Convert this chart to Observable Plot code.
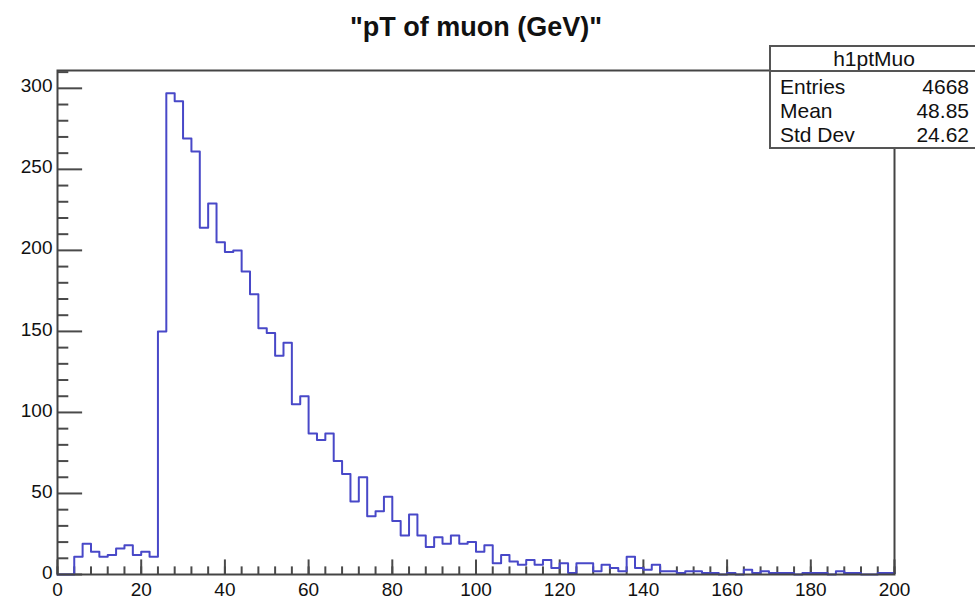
<!DOCTYPE html>
<html>
<head>
<meta charset="utf-8">
<script src="https://cdn.jsdelivr.net/npm/d3@7"></script>
<script src="https://cdn.jsdelivr.net/npm/@observablehq/plot@0.6"></script>
<style>
html,body{margin:0;padding:0;background:#fff;overflow:hidden;width:975px;height:603px}
#wrap{position:relative;width:975px;height:603px}
#stats{position:absolute;left:769px;top:45px;width:210px;height:100px;border:2px solid #555;background:#fff;
  font-family:"Liberation Sans",Arial,sans-serif;font-size:21px;color:#111}
#stats .hdr{position:absolute;left:0;top:0;width:206px;height:23px;line-height:23px;text-align:center}
#stats .sep{position:absolute;left:0;top:23px;width:100%;height:2px;background:#555}
#stats .row{position:absolute;left:9px;width:189px;height:24px;line-height:24px;display:flex;justify-content:space-between}
</style>
</head>
<body>
<div id="wrap">
  <div id="chart"></div>
  <div id="stats"></div>
</div>
<script>
const title = "\"pT of muon (GeV)\"";
const histName = "h1ptMuo";
const statLabels = ["Entries", "Mean", "Std Dev"];
const statValues = ["4668", "48.85", "24.62"];

// lower edges of the 2 GeV bins
const binEdges = [0,2,4,6,8,10,12,14,16,18,20,22,24,26,28,30,32,34,36,38,40,42,44,46,48,50,52,54,56,58,60,62,64,66,68,70,72,74,76,78,80,82,84,86,88,90,92,94,96,98,100,102,104,106,108,110,112,114,116,118,120,122,124,126,128,130,132,134,136,138,140,142,144,146,148,150,152,154,156,158,160,162,164,166,168,170,172,174,176,178,180,182,184,186,188,190,192,194,196,198];
const binUpper = 200;
const counts = [
  0,0,11,19,14,11,12,16,18,12,14,11,
  150,297,292,269,261,214,229,205,199,200,
  187,173,152,149,135,143,105,110,87,83,87,
  70,62,45,60,36,39,48,33,24,37,24,17,
  23,19,24,19,20,14,18,7,12,8,6,9,6,9,4,
  7,1,7,7,2,6,4,2,11,4,3,6,
  2,2,1,2,2,1,1,0,1,0,3,1,2,1,1,1,0,1,1,1,0,2,1,1,0,0,1,1
];

const xMajor = [0,20,40,60,80,100,120,140,160,180,200];
const xMinor = [0,4,8,12,16,20,24,28,32,36,40,44,48,52,56,60,64,68,72,76,80,84,88,92,96,100,104,108,112,116,120,124,128,132,136,140,144,148,152,156,160,164,168,172,176,180,184,188,192,196,200];
const yMajor = [0,50,100,150,200,250,300];
const yMinor = [10,20,30,40,60,70,80,90,110,120,130,140,160,170,180,190,210,220,230,240,260,270,280,290,310];

const steps = counts.map((c, i) => ({x: binEdges[i], y: c}))
  .concat([{x: binUpper, y: counts[counts.length - 1]}]);

const tickColor = "#4a4a4a";

const chart = Plot.plot({
  width: 975,
  height: 603,
  marginLeft: 57,
  marginRight: 81,
  marginTop: 70,
  marginBottom: 29,
  x: {domain: [0, 200]},
  y: {domain: [0, 311]},
  style: {fontFamily: "Liberation Sans, Arial, sans-serif", color: "#111", background: "#fff", overflow: "visible"},
  marks: [
    Plot.ruleY(yMinor, {x1: 0, x2: 2.7, stroke: tickColor, strokeWidth: 2}),
    Plot.ruleY(yMajor, {x1: 0, x2: 6, stroke: tickColor, strokeWidth: 2}),
    Plot.ruleX(xMinor, {y1: 0, y2: 4.7, stroke: tickColor, strokeWidth: 2}),
    Plot.ruleX(xMajor, {y1: 0, y2: 9, stroke: tickColor, strokeWidth: 2}),
    Plot.line(steps, {x: "x", y: "y", curve: "step-after", stroke: "#4848c8", strokeWidth: 2}),
    Plot.frame({stroke: "#444", strokeWidth: 2}),
    Plot.axisY(yMajor, {tickSize: 0, tickPadding: 5, fontSize: 19, label: null, dy: -2}),
    Plot.axisX(xMajor, {tickSize: 0, tickPadding: 8, fontSize: 19, label: null}),
    Plot.text([title], {frameAnchor: "top", dy: -35, lineAnchor: "bottom", fontSize: 27, fontWeight: "bold"})
  ]
});
document.getElementById("chart").appendChild(chart);

const stats = document.getElementById("stats");
const hdr = document.createElement("div");
hdr.className = "hdr";
hdr.textContent = histName;
stats.appendChild(hdr);
const sep = document.createElement("div");
sep.className = "sep";
stats.appendChild(sep);
statLabels.forEach((lab, i) => {
  const r = document.createElement("div");
  r.className = "row";
  r.style.top = (28 + 24 * i) + "px";
  const a = document.createElement("span"); a.textContent = lab;
  const b = document.createElement("span"); b.textContent = statValues[i];
  r.appendChild(a); r.appendChild(b);
  stats.appendChild(r);
});
</script>
</body>
</html>
